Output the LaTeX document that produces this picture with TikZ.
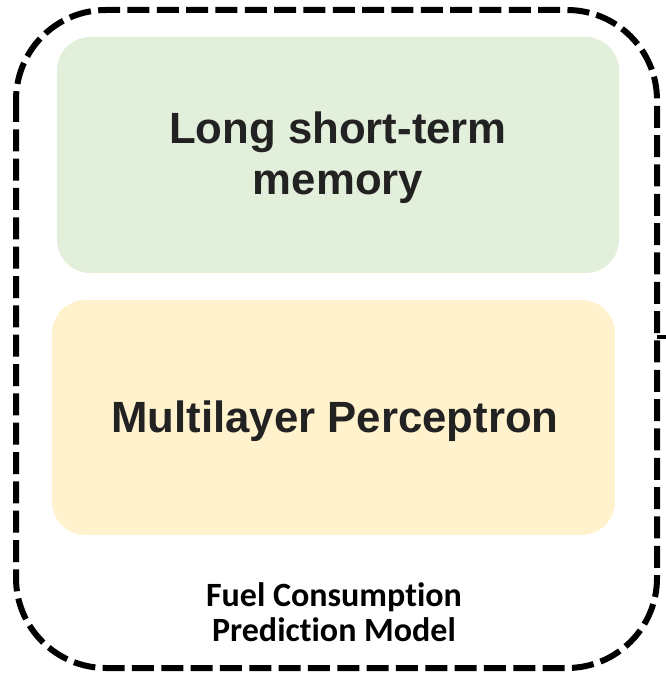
\documentclass[tikz,border=0pt]{standalone}
\usepackage{fontspec}
\setmainfont{Liberation Sans}
\newfontfamily\labelfont[Ligatures={NoCommon}]{Carlito}
\definecolor{lstmgreen}{HTML}{E2EFDA}
\definecolor{mlpyellow}{HTML}{FFF2CC}
\definecolor{textgray}{HTML}{222222}
\tikzset{
  layerbox/.style={rounded corners=25pt, inner sep=0pt, text=textgray, align=center,
    font=\bfseries\fontsize{32.8}{38.3}\selectfont},
}
\begin{document}
\begin{tikzpicture}[x=0.75pt,y=-0.75pt]
	\useasboundingbox (0,0) rectangle (666,677) ;
	% outer model frame
	\draw[line width=4.5pt, dash pattern=on 16.5pt off 5.5pt, rounded corners=67.5pt] (16,10) rectangle (657,668) ;
	\draw[line width=3pt] (657,337) -- (666,337) ;
	% the two layers
	\node[layerbox, fill=lstmgreen, minimum width=421.5pt, minimum height=177pt] (lstm) at (338,155) {} ;
	\node[layerbox, fill=mlpyellow, minimum width=422.25pt, minimum height=176.25pt] (mlp) at (333.5,417.5) {} ;
	\node[layerbox] (lstmtext) at (338,158) {Long short-term\\memory} ;
	\node[layerbox] (mlptext) at (335,421) {Multilayer Perceptron} ;
	% caption inside the frame
	\node[align=center, font=\labelfont\bfseries\fontsize{25.5}{26.5}\selectfont] (caption) at (334,612) {Fuel Consumption\\Prediction Model} ;
\end{tikzpicture}
\end{document}
